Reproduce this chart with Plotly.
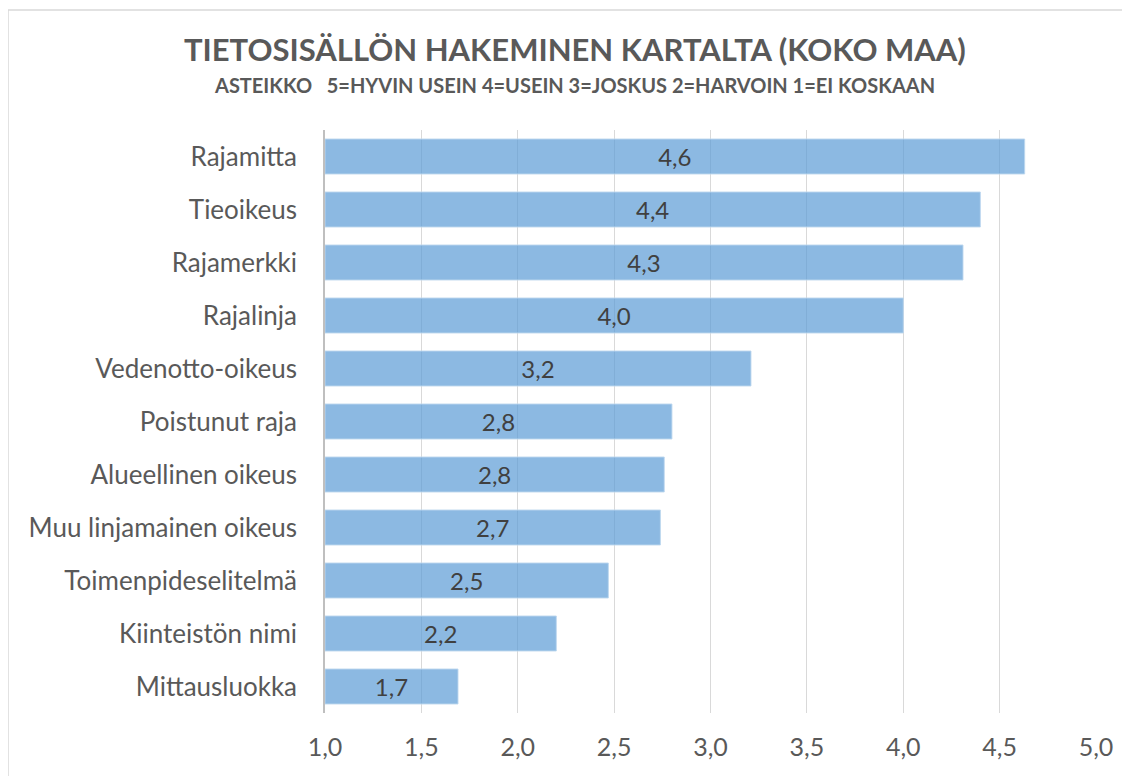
import plotly.graph_objects as go

categories = ["Rajamitta", "Tieoikeus", "Rajamerkki", "Rajalinja", "Vedenotto-oikeus",
              "Poistunut raja", "Alueellinen oikeus", "Muu linjamainen oikeus",
              "Toimenpideselitelmä", "Kiinteistön nimi", "Mittausluokka"]
values = [4.63, 4.40, 4.31, 4.00, 3.21, 2.80, 2.76, 2.74, 2.47, 2.20, 1.69]
tick_vals = [1.0, 1.5, 2.0, 2.5, 3.0, 3.5, 4.0, 4.5, 5.0]
tick_text = ["1,0", "1,5", "2,0", "2,5", "3,0", "3,5", "4,0", "4,5", "5,0"]
scale_base = 1.0

title_text = "TIETOSISÄLLÖN HAKEMINEN KARTALTA (KOKO MAA)"
subtitle_text = "ASTEIKKO&nbsp;&nbsp; 5=HYVIN USEIN 4=USEIN 3=JOSKUS 2=HARVOIN 1=EI KOSKAAN"

labels = [f"{v:.1f}".replace(".", ",") for v in values]

FONT = "Lato"
# page has an 8px body offset; plot area spans page x 325..1096, y 130..713
W, H = 1122, 768
L, T = 317, 122
PW, PH = 771, 583

def py(y_page):
    return (713 - y_page) / PH

def px(x_page):
    return (x_page - 325) / PW

fig = go.Figure(go.Bar(
    y=categories,
    x=[v - scale_base for v in values],
    base=scale_base,
    orientation="h",
    width=0.66,
    marker=dict(color="rgba(91,155,213,0.7)", line=dict(color="rgba(189,215,238,0.9)", width=1)),
    text=labels,
    textposition="inside",
    insidetextanchor="middle",
    constraintext="none",
    textangle=0,
    textfont=dict(family=FONT, size=24, color="#404040"),
    cliponaxis=False,
))

fig.update_layout(
    width=W, height=H,
    paper_bgcolor="white", plot_bgcolor="white",
    margin=dict(l=L, r=W - L - PW, t=T, b=H - T - PH),
    showlegend=False,
    xaxis=dict(
        range=[1.0, 5.0], tickvals=tick_vals, ticktext=tick_text,
        showgrid=True, gridcolor="#d9d9d9", gridwidth=1.3, zeroline=False,
        showline=False, ticks="", ticklabelstandoff=17,
        tickfont=dict(family=FONT, size=25, color="#595959"),
    ),
    yaxis=dict(
        autorange="reversed", showgrid=False, showline=True, linecolor="#bfbfbf", linewidth=1.5,
        ticks="", ticklabelstandoff=21,
        tickfont=dict(family=FONT, size=26, color="#595959"),
    ),
    annotations=[
        dict(text="<b>" + title_text + "</b>", xref="paper", yref="paper",
             x=px(575), y=py(49), xanchor="center", yanchor="middle", showarrow=False,
             font=dict(family=FONT, size=31, color="#595959")),
        dict(text="<b>" + subtitle_text + "</b>", xref="paper", yref="paper",
             x=px(574), y=py(84.5), xanchor="center", yanchor="middle", showarrow=False,
             font=dict(family=FONT, size=20, color="#595959")),
    ],
    shapes=[
        dict(type="line", xref="paper", yref="paper", x0=px(8), x1=1.2, y0=py(10), y1=py(10),
             line=dict(color="#d9d9d9", width=1.5)),
        dict(type="line", xref="paper", yref="paper", x0=px(8), x1=px(8), y0=py(10), y1=-0.3,
             line=dict(color="#d9d9d9", width=1.5)),
    ],
)

fig.write_html("out.html")
